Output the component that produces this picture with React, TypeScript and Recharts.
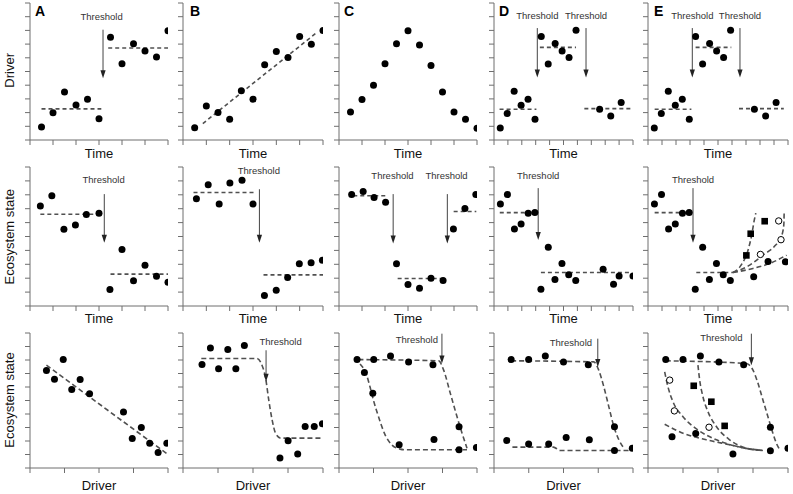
import React from "react";
import { ComposedChart, XAxis, YAxis, Scatter, Line, ReferenceLine, ReferenceDot } from "recharts";

type Pt = { x: number; y: number };
const pts = (a: number[][]): Pt[] => a.map(([x, y]) => ({ x, y }));

// tick positions
const yTicks = [0, 1, 2, 3, 4, 5, 6, 7, 8, 9, 10];
const timeTicks = [0, 2, 4, 6, 8, 10, 12];
const longTimeTicks = [0, 2, 4, 6, 8, 10, 12, 14, 16, 18, 20];
const driverTicks = [0, 3, 6, 9, 12];

// ---- row 1: driver over time ----
const driverA = [[1, 0.95], [2, 1.98], [3, 3.5], [4, 2.56], [5, 2.98], [6, 1.56], [7, 7.5], [8, 5.56], [9, 7.02], [10, 6.49], [11, 6.05], [12, 7.98]];
const driverAMeans = [[[1, 2.27], [6.2, 2.27]], [[6.8, 6.71], [12, 6.71]]];
const driverB = [[1, 0.9], [2, 2.49], [3, 2.0], [4, 1.51], [5, 3.59], [6, 2.98], [7, 5.49], [8, 6.46], [9, 6.02], [10, 7.56], [11, 6.98], [12, 8.0]];
const driverBTrend = [[1.7, 1.2], [11.4, 7.8]];
const driverC = [[1, 2.05], [2, 2.95], [3, 4.0], [4, 5.56], [5, 7.02], [6, 7.98], [7, 6.93], [8, 5.44], [9, 3.51], [10, 2.05], [11, 1.51], [12, 0.85]];
const driverDE = [[0.9, 0.88], [1.9, 1.93], [2.9, 3.56], [3.9, 2.54], [4.9, 2.98], [5.9, 1.51], [6.8, 7.56], [7.8, 5.54], [8.8, 7.05], [9.8, 6.49], [10.8, 6.02], [11.8, 8.02], [15.2, 2.24], [16.8, 1.76], [18.3, 2.73]];
const driverDMeans = [[[0.8, 2.24], [6.1, 2.24]], [[6.6, 6.76], [11.8, 6.76]], [[13, 2.29], [20, 2.29]]];
const driverEMeans = [[[0.95, 2.24], [6.2, 2.24]], [[6.8, 6.76], [11.9, 6.76]], [[13, 2.29], [19.4, 2.29]]];

// ---- row 2: ecosystem state over time ----
const stateA = [[0.9, 7.2], [1.9, 7.93], [2.95, 5.52], [3.95, 5.83], [4.9, 6.58], [6, 6.67], [6.95, 1.18], [8, 4.07], [9, 1.81], [10, 2.94], [11, 2.14], [12, 1.71]];
const stateAMeans = [[[0.9, 6.6], [5.5, 6.6]], [[7, 2.29], [12, 2.29]]];
const stateB = [[1.15, 7.71], [2.16, 8.72], [3.1, 7.33], [4.02, 8.84], [5.06, 9.04], [6, 7.33], [6.98, 0.75], [7.99, 1.13], [8.97, 2.05], [9.97, 3.04], [10.98, 3.11], [11.95, 3.3]];
const stateBMeans = [[[0.9, 8.17], [6.1, 8.17]], [[6.9, 2.24], [12, 2.24]]];
const stateC = [[1.1, 8.02], [2.1, 8.24], [3.05, 7.81], [4.05, 7.47], [5, 3.04], [6, 1.54], [7, 1.28], [8, 2.0], [9.05, 1.83], [9.95, 5.54], [10.95, 7.01], [11.9, 8.02]];
const stateCMeans = [[[1.24, 7.93], [4.28, 7.93]], [[5.1, 1.98], [9.1, 1.98]], [[9.97, 6.8], [11.94, 6.8]]];
const stateDE = [[0.92, 7.33], [1.93, 8.02], [2.94, 5.54], [3.9, 5.9], [4.92, 6.67], [5.88, 6.72], [6.75, 1.2], [7.81, 4.22], [8.77, 1.9], [9.78, 3.06], [10.75, 2.24], [11.76, 1.83]];
const stateDTail = [[15.7, 2.65], [17.2, 1.57], [18.0, 2.15], [20, 2.15]];
const stateDMeans = [[[0.83, 6.72], [6.13, 6.72]], [[6.75, 2.41], [19.6, 2.41]]];
const stateETail = [[15.1, 2.1], [17.15, 3.21], [19.63, 3.18]];
const stateESquares = [[14.05, 3.64], [14.67, 5.2], [16.67, 6.1]];
const stateECircles = [[16.06, 3.71], [19.0, 4.77], [18.67, 6.12]];
const stateEMeans = [[[0.95, 6.72], [6.33, 6.72]], [[6.9, 2.41], [12.14, 2.41]]];
const stateERecoverySquares = [[12.14, 2.41], [13.3, 2.94], [14.3, 4.03], [14.86, 5.23], [15.14, 6.07], [15.4, 6.68]];
const stateERecoveryCircles = [[12.14, 2.41], [14.53, 2.94], [16.43, 3.66], [18.1, 4.31], [19.05, 4.99], [19.4, 5.83], [19.45, 6.68]];
const stateERecoveryDots = [[12.14, 2.41], [15.0, 2.7], [17.4, 3.06], [19.8, 3.66]];

// ---- row 3: ecosystem state vs driver ----
const responseA = [[1.43, 7.22], [2.13, 6.58], [2.89, 8.03], [3.63, 5.82], [4.36, 6.56], [5.18, 5.5], [8.13, 4.15], [8.89, 2.19], [9.68, 3.0], [10.41, 1.84], [11.14, 1.15], [11.9, 1.84]];
const responseATrend = [[1.43, 7.62], [11.9, 1.06]];
const responseB = [[1.63, 7.67], [2.35, 8.89], [3.05, 7.35], [3.84, 8.77], [4.53, 7.35], [5.26, 9.07], [8.31, 0.74], [9.01, 2.01], [9.83, 1.03], [10.47, 3.07], [11.25, 3.07], [11.95, 3.27]];
const responseBCurve = [[1.57, 8.11], [6.34, 8.11], [6.77, 7.62], [7.06, 6.76], [7.35, 5.04], [7.64, 3.56], [7.93, 2.58], [8.37, 2.21], [12, 2.21]];
const responseC = [[1.57, 8.03], [3.02, 8.03], [4.48, 8.3], [6.05, 7.86], [8.17, 7.64], [2.21, 7.08], [2.94, 5.53], [5.23, 1.72], [8.26, 2.11], [10.44, 3.05], [10.44, 1.35], [11.95, 1.52]];
const responseCUpper = [[1.69, 8.03], [8.66, 7.94], [9.1, 7.25], [9.68, 5.53], [10.26, 3.81], [10.7, 2.58], [11.13, 1.47]];
const responseCLower = [[1.83, 7.71], [2.41, 6.86], [2.7, 6.0], [2.99, 5.04], [3.43, 3.81], [4.01, 2.46], [4.59, 1.72], [5.32, 1.4], [5.8, 1.35], [11.13, 1.35]];
const responseD = [[1.48, 8.03], [2.99, 8.03], [4.43, 8.3], [6.0, 7.86], [8.14, 7.64], [1.1, 2.04], [2.99, 1.77], [4.72, 1.77], [6.23, 2.26], [8.23, 2.09], [10.4, 3.05], [10.4, 1.3], [11.94, 1.47]];
const responseDUpper = [[1.48, 7.94], [8.61, 7.86], [9.04, 7.25], [9.48, 6.02], [9.91, 4.55], [10.35, 3.07], [10.78, 2.09], [11.22, 1.47]];
const responseDLower = [[1.59, 1.55], [5.13, 1.55], [5.71, 1.3], [11.94, 1.3]];
const responseE = [[1.52, 8.04], [3.0, 8.04], [4.49, 8.3], [6.08, 7.86], [8.2, 7.64], [10.49, 3.02], [12.0, 1.47], [2.06, 2.31], [4.09, 2.55], [7.28, 1.03], [10.49, 1.28]];
const responseESquares = [[3.92, 6.09], [5.43, 4.91], [6.57, 3.12]];
const responseECircles = [[1.86, 6.51], [2.26, 4.23], [5.23, 3.02]];
const responseEUpper = [[1.52, 7.94], [8.43, 7.74], [9.0, 7.25], [9.43, 6.27], [9.85, 5.04], [10.28, 3.8], [10.66, 2.7], [11.0, 1.84], [11.29, 1.35]];
const responseESquareCurve = [[4.28, 7.62], [4.43, 6.51], [4.71, 5.28], [5.14, 4.17], [5.86, 3.07], [7.0, 2.09], [8.43, 1.47], [9.85, 1.3]];
const responseECircleCurve = [[1.43, 7.12], [1.71, 6.02], [2.14, 4.91], [3.0, 3.8], [4.28, 2.82], [5.86, 2.09], [7.86, 1.55], [9.85, 1.3]];
const responseEBottomCurve = [[1.43, 3.24], [3.0, 2.58], [5.0, 2.09], [7.0, 1.72], [8.71, 1.4], [9.85, 1.3]];

// thresholds: [x, arrow top, arrow tip, label x, label y]
const thrA1 = [[6.35, 8.05, 4.5, 6.23, 8.98]];
const thrD1 = [[6.23, 8.17, 4.56, 6.23, 9.07], [13.24, 8.17, 4.56, 13.24, 9.07]];
const thrE1 = [[6.33, 8.17, 4.56, 6.33, 9.07], [13.14, 8.17, 4.56, 13.14, 9.07]];
const thrA2 = [[6.46, 8.05, 4.55, 6.4, 9.13]];
const thrB2 = [[6.55, 8.4, 4.55, 6.5, 9.76]];
const thrC2 = [[4.71, 8.05, 4.5, 4.65, 9.4], [9.42, 8.05, 4.5, 9.35, 9.4]];
const thrD2 = [[6.36, 8.48, 4.75, 6.36, 9.4]];
const thrE2 = [[6.43, 8.48, 4.55, 6.43, 9.13]];
const thrB3 = [[7.12, 8.72, 6.39, 8.37, 9.34]];
const thrC3 = [[8.95, 9.95, 7.74, 6.77, 9.51]];
const thrD3 = [[8.96, 9.58, 7.49, 6.64, 9.26]];
const thrE3 = [[8.86, 9.95, 7.62, 6.29, 9.7]];

const FONT = "'Liberation Sans', Arial, Helvetica, sans-serif";
const AXIS = "#6e6e6e";
const DASH = "#505050";

const cols = [
  { left: 30, w: 138 },
  { left: 183, w: 140 },
  { left: 339, w: 138 },
  { left: 494, w: 139 },
  { left: 648, w: 140 },
];
const rows = [
  { top: 3, h: 137 },
  { top: 167, h: 139 },
  { top: 333, h: 135 },
];

const DotShape = (p: any) => <circle cx={p.cx} cy={p.cy} r={3.5} fill="#000" />;
const SquareShape = (p: any) => <rect x={p.cx - 3.3} y={p.cy - 3.3} width={6.6} height={6.6} fill="#000" />;
const OpenShape = (p: any) => <circle cx={p.cx} cy={p.cy} r={3.2} fill="#fff" stroke="#000" strokeWidth={1} />;
const NoLabel = () => <g />;

const ArrowShape = (p: any) => {
  const { x1, y1, x2, y2 } = p;
  return (
    <g>
      <line x1={x1} y1={y1} x2={x2} y2={y2 - 6} stroke="#444" strokeWidth={1} />
      <polygon points={`${x2 - 2.6},${y2 - 8} ${x2 + 2.6},${y2 - 8} ${x2},${y2}`} fill="#222" />
    </g>
  );
};

const LabelShape = (p: any) => (
  <text x={p.cx} y={p.cy} textAnchor="middle" dominantBaseline="central" fontSize={9.5} fill="#333" fontFamily={FONT}>
    Threshold
  </text>
);

interface PanelProps {
  col: number;
  row: number;
  xMax: number;
  xTicks: number[];
  dots: number[][];
  squares?: number[][];
  circles?: number[][];
  lines?: number[][][];
  curves?: number[][][];
  thresholds?: number[][];
  dash?: string;
}

function Panel({ col, row, xMax, xTicks, dots, squares, circles, lines = [], curves = [], thresholds = [], dash = "4 3" }: PanelProps) {
  const { left, w } = cols[col];
  const { top, h } = rows[row];
  return (
    <div style={{ position: "absolute", left: left - 10, top: top - 10 }}>
      <ComposedChart width={w + 20} height={h + 20} margin={{ top: 10, right: 10, bottom: 0, left: 0 }}>
        <XAxis type="number" dataKey="x" domain={[0, xMax]} ticks={xTicks} interval={0} allowDataOverflow tick={NoLabel} tickLine={{ stroke: AXIS }} tickSize={5} height={10} stroke={AXIS} />
        <YAxis type="number" dataKey="y" domain={[0, 10]} ticks={yTicks} interval={0} allowDataOverflow tick={NoLabel} tickLine={{ stroke: AXIS }} tickSize={5} width={10} stroke={AXIS} />
        {lines.map((l, i) => (
          <Line key={"l" + i} data={pts(l)} dataKey="y" type="linear" stroke={DASH} strokeWidth={1.6} strokeDasharray={dash} dot={false} activeDot={false} isAnimationActive={false} />
        ))}
        {curves.map((l, i) => (
          <Line key={"c" + i} data={pts(l)} dataKey="y" type="monotone" stroke={DASH} strokeWidth={1.6} strokeDasharray="5 3" dot={false} activeDot={false} isAnimationActive={false} />
        ))}
        {thresholds.map((t, i) => (
          <ReferenceLine key={"a" + i} segment={[{ x: t[0], y: t[1] }, { x: t[0], y: t[2] }]} ifOverflow="visible" shape={ArrowShape} />
        ))}
        {thresholds.map((t, i) => (
          <ReferenceDot key={"t" + i} x={t[3]} y={t[4]} ifOverflow="visible" shape={LabelShape} />
        ))}
        <Scatter data={pts(dots)} shape={DotShape} isAnimationActive={false} />
        {squares && <Scatter data={pts(squares)} shape={SquareShape} isAnimationActive={false} />}
        {circles && <Scatter data={pts(circles)} shape={OpenShape} isAnimationActive={false} />}
      </ComposedChart>
    </div>
  );
}

const letters = ["A", "B", "C", "D", "E"];
const letterX = [35, 190, 344, 499, 654];
const xLabels = ["Time", "Time", "Driver"];
const xLabelBaselines = [157.5, 322.7, 489.8];
const yLabels = ["Driver", "Ecosystem state", "Ecosystem state"];
const yLabelCenters = [70.3, 236.7, 400];

export default function App() {
  return (
    <div style={{ position: "absolute", left: 0, top: 0, width: 793, height: 494, background: "#fff", overflow: "hidden" }}>
      <Panel col={0} row={0} xMax={12} xTicks={timeTicks} dots={driverA} lines={driverAMeans} thresholds={thrA1} />
      <Panel col={1} row={0} xMax={12} xTicks={timeTicks} dots={driverB} lines={[driverBTrend]} />
      <Panel col={2} row={0} xMax={12} xTicks={timeTicks} dots={driverC} />
      <Panel col={3} row={0} xMax={20} xTicks={longTimeTicks} dots={driverDE} lines={driverDMeans} thresholds={thrD1} />
      <Panel col={4} row={0} xMax={20} xTicks={longTimeTicks} dots={driverDE} lines={driverEMeans} thresholds={thrE1} />

      <Panel col={0} row={1} xMax={12} xTicks={timeTicks} dots={stateA} lines={stateAMeans} thresholds={thrA2} />
      <Panel col={1} row={1} xMax={12} xTicks={timeTicks} dots={stateB} lines={stateBMeans} thresholds={thrB2} />
      <Panel col={2} row={1} xMax={12} xTicks={timeTicks} dots={stateC} lines={stateCMeans} thresholds={thrC2} />
      <Panel col={3} row={1} xMax={20} xTicks={longTimeTicks} dots={[...stateDE, ...stateDTail]} lines={stateDMeans} thresholds={thrD2} />
      <Panel
        col={4}
        row={1}
        xMax={20}
        xTicks={longTimeTicks}
        dots={[...stateDE, ...stateETail]}
        squares={stateESquares}
        circles={stateECircles}
        lines={stateEMeans}
        curves={[stateERecoverySquares, stateERecoveryCircles, stateERecoveryDots]}
        thresholds={thrE2}
      />

      <Panel col={0} row={2} xMax={12} xTicks={driverTicks} dots={responseA} lines={[responseATrend]} dash="5 3" />
      <Panel col={1} row={2} xMax={12} xTicks={driverTicks} dots={responseB} curves={[responseBCurve]} thresholds={thrB3} />
      <Panel col={2} row={2} xMax={12} xTicks={driverTicks} dots={responseC} curves={[responseCUpper, responseCLower]} thresholds={thrC3} />
      <Panel col={3} row={2} xMax={12} xTicks={driverTicks} dots={responseD} curves={[responseDUpper, responseDLower]} thresholds={thrD3} />
      <Panel
        col={4}
        row={2}
        xMax={12}
        xTicks={driverTicks}
        dots={responseE}
        squares={responseESquares}
        circles={responseECircles}
        curves={[responseEUpper, responseESquareCurve, responseECircleCurve, responseEBottomCurve]}
        thresholds={thrE3}
      />

      <svg width={793} height={494} style={{ position: "absolute", left: 0, top: 0, pointerEvents: "none" }} fontFamily={FONT}>
        {letters.map((l, i) => (
          <text key={l} x={letterX[i]} y={15.5} fontSize={14} fontWeight="bold" fill="#000">
            {l}
          </text>
        ))}
        {rows.map((r, ri) =>
          cols.map((c, ci) => (
            <text key={ri + "-" + ci} x={c.left + c.w / 2} y={xLabelBaselines[ri]} fontSize={13} textAnchor="middle" fill="#111">
              {xLabels[ri]}
            </text>
          ))
        )}
        {yLabels.map((l, i) => (
          <text key={i} transform={`translate(14, ${yLabelCenters[i]}) rotate(-90)`} fontSize={13} textAnchor="middle" fill="#111">
            {l}
          </text>
        ))}
      </svg>
    </div>
  );
}
